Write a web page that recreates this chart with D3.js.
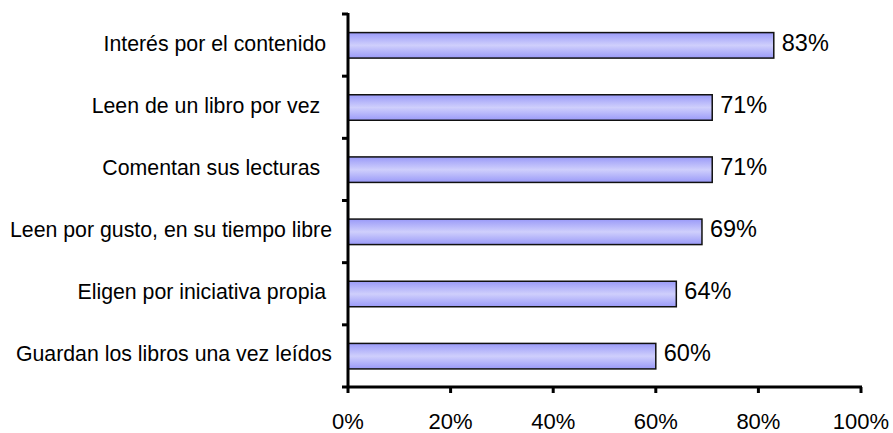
<!DOCTYPE html>
<html><head><meta charset="utf-8">
<script src="https://cdn.jsdelivr.net/npm/d3@7"></script>
<style>body{margin:0;background:#fff}svg{display:block}text{font-family:"Liberation Sans",Arial,sans-serif}</style>
</head><body>
<script>
const categories = ["Interés por el contenido ", "Leen de un libro por vez  ", "Comentan sus lecturas  ", "Leen por gusto, en su tiempo libre", "Eligen por iniciativa propia ", "Guardan los libros una vez leídos"];
const values = [83, 71, 71, 69, 64, 60];
const ticks = [0, 20, 40, 60, 80, 100];

const W = 893, H = 433;
const svg = d3.select("body").append("svg").attr("width", W).attr("height", H);
const defs = svg.append("defs");
const g = defs.append("linearGradient").attr("id", "bg").attr("x1", 0).attr("y1", 0).attr("x2", 0).attr("y2", 1);
g.append("stop").attr("offset", "0%").attr("stop-color", "#9a9af8");
g.append("stop").attr("offset", "50%").attr("stop-color", "#cfcffc");
g.append("stop").attr("offset", "100%").attr("stop-color", "#9a9af8");

const x = d3.scaleLinear().domain([0, 100]).range([348, 861]);
const yb = d3.scaleBand().domain(categories).range([14, 387]);
const cy = i => yb(categories[i]) + yb.bandwidth() / 2;

svg.selectAll("rect.bar").data(values).enter().append("rect")
  .attr("x", x(0)).attr("y", (d, i) => cy(i) - 12.5)
  .attr("width", d => x(d) - x(0)).attr("height", 25.5)
  .attr("fill", "url(#bg)").attr("stroke", "#111").attr("stroke-width", 1.5);

svg.selectAll("text.val").data(values).enter().append("text")
  .attr("x", d => x(d) + 8).attr("y", (d, i) => cy(i) + 5.5)
  .attr("font-size", 23.5).attr("fill", "#000").text(d => d + "%");

svg.selectAll("text.cat").data(categories).enter().append("text")
  .attr("x", 332).attr("y", (d, i) => cy(i) + 5.5)
  .attr("text-anchor", "end").attr("font-size", 21.3).attr("fill", "#000")
  .style("white-space", "pre").text(d => d);

// y axis
svg.append("line").attr("x1", 348).attr("x2", 348).attr("y1", 13).attr("y2", 388).attr("stroke", "#000").attr("stroke-width", 3);
const yTicks = d3.range(categories.length + 1).map(i => 14 + i * yb.step());
svg.selectAll("line.yt").data(yTicks).enter().append("line")
  .attr("x1", 342).attr("x2", 348).attr("y1", d => d).attr("y2", d => d)
  .attr("stroke", "#000").attr("stroke-width", 3);

// x axis
svg.append("line").attr("x1", 347).attr("x2", 862).attr("y1", 387).attr("y2", 387).attr("stroke", "#000").attr("stroke-width", 3);
svg.selectAll("line.xt").data(ticks).enter().append("line")
  .attr("x1", d => x(d)).attr("x2", d => x(d)).attr("y1", 387).attr("y2", 393)
  .attr("stroke", "#000").attr("stroke-width", 3);
svg.selectAll("text.xt").data(ticks).enter().append("text")
  .attr("x", d => x(d)).attr("y", 428.5).attr("text-anchor", "middle").attr("font-size", 22)
  .text(d => d + "%");
</script>
</body></html>
